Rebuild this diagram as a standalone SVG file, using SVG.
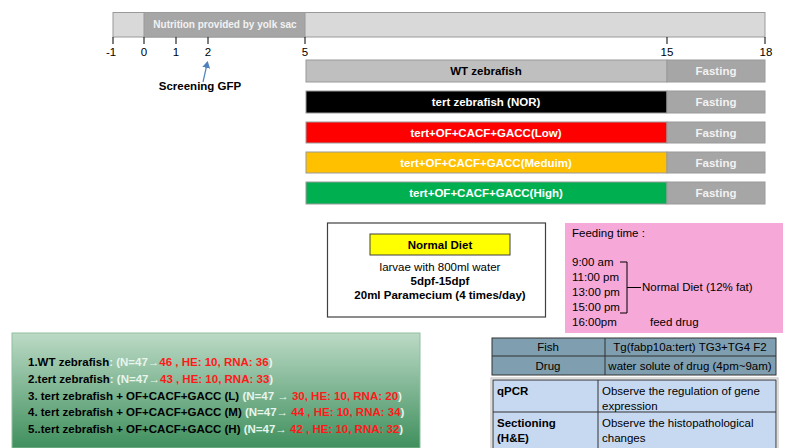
<svg xmlns="http://www.w3.org/2000/svg" width="785" height="448" viewBox="0 0 785 448">
<defs>
<linearGradient id="gg" x1="0" y1="0" x2="0" y2="1">
<stop offset="0" stop-color="#bcdac6"/>
<stop offset="1" stop-color="#3f8f5d"/>
</linearGradient>
<marker id="ah" markerWidth="8" markerHeight="8" refX="6" refY="4" orient="auto" markerUnits="userSpaceOnUse">
<path d="M0,0 L7,4 L0,8 Z" fill="#4f81bd"/>
</marker>
</defs>
<style>
text{font-family:"Liberation Sans",Arial,sans-serif;font-size:11.5px;fill:#000}
.b{font-weight:bold}
.c{text-anchor:middle}
.w{fill:#f2f2f2}
.r{fill:#ff1a1a}
.wl{fill:#e8f5ec}
.bar{stroke:#9a9a9a;stroke-width:1}
.fast{fill:#a6a6a6;stroke:#9a9a9a}
.tick{stroke:#000;stroke-width:1}
</style>
<rect width="785" height="448" fill="#fff"/>

<g id="timeline">
<rect x="113" y="12.5" width="652" height="24.5" fill="#d9d9d9" stroke="#9a9a9a"/>
<rect x="144" y="12.5" width="161" height="24.5" fill="#a6a6a6" stroke="#9a9a9a"/>
<text x="225" y="28" class="b c w" style="font-size:10px">Nutrition  provided by yolk sac</text>
<g class="tick">
<line x1="113" y1="37" x2="113" y2="44"/>
<line x1="144" y1="37" x2="144" y2="44"/>
<line x1="176" y1="37" x2="176" y2="44"/>
<line x1="208" y1="37" x2="208" y2="44"/>
<line x1="305" y1="37" x2="305" y2="44"/>
<line x1="667" y1="37" x2="667" y2="44"/>
<line x1="765" y1="37" x2="765" y2="44"/>
</g>
<text x="111" y="56" class="c">-1</text>
<text x="144" y="56" class="c">0</text>
<text x="176" y="56" class="c">1</text>
<text x="208" y="56" class="c">2</text>
<text x="305" y="56" class="c">5</text>
<text x="667" y="56" class="c">15</text>
<text x="766" y="56" class="c">18</text>
</g>

<g id="screening">
<text x="200" y="90" class="b c">Screening GFP</text>
</g>

<g id="bar-wt">
<rect x="306" y="60" width="361" height="22" fill="#bfbfbf" class="bar"/>
<rect x="667" y="60" width="98" height="22" class="fast"/>
<text x="486" y="75" class="b c">WT zebrafish</text>
<text x="716" y="75" class="b c w">Fasting</text>
</g>
<g id="bar-nor">
<rect x="306" y="91" width="361" height="22" fill="#000" class="bar"/>
<rect x="667" y="91" width="98" height="22" class="fast"/>
<text x="486" y="106" class="b c" style="fill:#fff">tert zebrafish (NOR)</text>
<text x="716" y="106" class="b c w">Fasting</text>
</g>
<g id="bar-low">
<rect x="306" y="122" width="361" height="21" fill="#ff0000" class="bar"/>
<rect x="667" y="122" width="98" height="21" class="fast"/>
<text x="486" y="137" class="b c" style="fill:#fff">tert+OF+CACF+GACC(Low)</text>
<text x="716" y="137" class="b c w">Fasting</text>
</g>
<g id="bar-med">
<rect x="306" y="152" width="361" height="21" fill="#ffc000" class="bar"/>
<rect x="667" y="152" width="98" height="21" class="fast"/>
<text x="486" y="167" class="b c" style="fill:#fff">tert+OF+CACF+GACC(Meduim)</text>
<text x="716" y="167" class="b c w">Fasting</text>
</g>
<g id="bar-high">
<rect x="306" y="182" width="361" height="22" fill="#00b050" class="bar"/>
<rect x="667" y="182" width="98" height="22" class="fast"/>
<text x="486" y="197" class="b c" style="fill:#fff">tert+OF+CACF+GACC(High)</text>
<text x="716" y="197" class="b c w">Fasting</text>
</g>

<g id="normal-diet">
<rect x="327.5" y="223" width="218" height="94" fill="#fff" stroke="#404040" stroke-width="1.2"/>
<rect x="370" y="234" width="140" height="21" fill="#ffff00" stroke="#404040"/>
<text x="440" y="249" class="b c">Normal Diet</text>
<text x="440" y="271" class="c">larvae with 800ml water</text>
<text x="440" y="285" class="b c">5dpf-15dpf</text>
<text x="440" y="299" class="b c">20ml Paramecium (4 times/day)</text>
</g>

<g id="feeding">
<rect x="565" y="223" width="218" height="110" fill="#f6a8d8"/>
<text x="572" y="237">Feeding time :</text>
<text x="572" y="266">9:00 am</text>
<text x="572" y="281">11:00 pm</text>
<text x="572" y="296">13:00 pm</text>
<text x="572" y="311">15:00 pm</text>
<text x="572" y="326">16:00pm</text>
<text x="642" y="291">Normal Diet (12% fat)</text>
<text x="650" y="326">feed drug</text>
<path d="M620,262 H627 V313 H620 M627,287.5 H641" fill="none" stroke="#000" stroke-width="1"/>
</g>

<g id="groups">
<rect x="12" y="333" width="408" height="115" fill="url(#gg)" stroke="#8fbf9f"/>
<text x="28" y="366" class="b">1.WT zebrafish<tspan class="wl">: (N=47→</tspan><tspan class="r">46 , HE: 10, RNA: 36</tspan><tspan class="wl">)</tspan></text>
<text x="28" y="383" class="b">2.tert zebrafish<tspan class="wl">: (N=47→</tspan><tspan class="r">43 , HE: 10, RNA: 33</tspan><tspan class="wl">)</tspan></text>
<text x="28" y="400" class="b">3. tert zebrafish + OF+CACF+GACC (L) <tspan class="wl">(N=47 → </tspan><tspan class="r">30, HE: 10, RNA: 20</tspan><tspan class="wl">)</tspan></text>
<text x="28" y="416" class="b">4. tert zebrafish + OF+CACF+GACC (M) <tspan class="wl">(N=47→ </tspan><tspan class="r">44 , HE: 10, RNA: 34</tspan><tspan class="wl">)</tspan></text>
<text x="28" y="433" class="b">5..tert zebrafish + OF+CACF+GACC (H) <tspan class="wl">(N=47→ </tspan><tspan class="r">42 , HE: 10, RNA: 32</tspan><tspan class="wl">)</tspan></text>
</g>

<g id="fish-table">
<rect x="492" y="338" width="284" height="37" fill="#7f9eb0" stroke="#333"/>
<line x1="492" y1="356" x2="776" y2="356" stroke="#333"/>
<line x1="605" y1="338" x2="605" y2="375" stroke="#333"/>
<text x="548" y="351" class="c">Fish</text>
<text x="690" y="351" class="c">Tg(fabp10a:tert) TG3+TG4  F2</text>
<text x="548" y="370" class="c">Drug</text>
<text x="690" y="370" class="c">water solute of drug (4pm~9am)</text>
</g>

<g id="method-table">
<rect x="491" y="378" width="287" height="72" fill="#fff" stroke="#bbb"/>
<rect x="493" y="380" width="283" height="70" fill="#c6d9f1" stroke="#333"/>
<line x1="493" y1="412" x2="776" y2="412" stroke="#333"/>
<line x1="598" y1="380" x2="598" y2="448" stroke="#333"/>
<text x="497" y="395" class="b">qPCR</text>
<text x="602" y="395">Observe the regulation of gene</text>
<text x="602" y="410">expression</text>
<text x="497" y="427" class="b">Sectioning</text>
<text x="497" y="442" class="b">(H&amp;E)</text>
<text x="602" y="427">Observe the histopathological</text>
<text x="602" y="442">changes</text>
</g>

<g id="connectors">
<line x1="203" y1="82" x2="207.5" y2="62" stroke="#4f81bd" stroke-width="1.2" marker-end="url(#ah)"/>
</g>
</svg>
